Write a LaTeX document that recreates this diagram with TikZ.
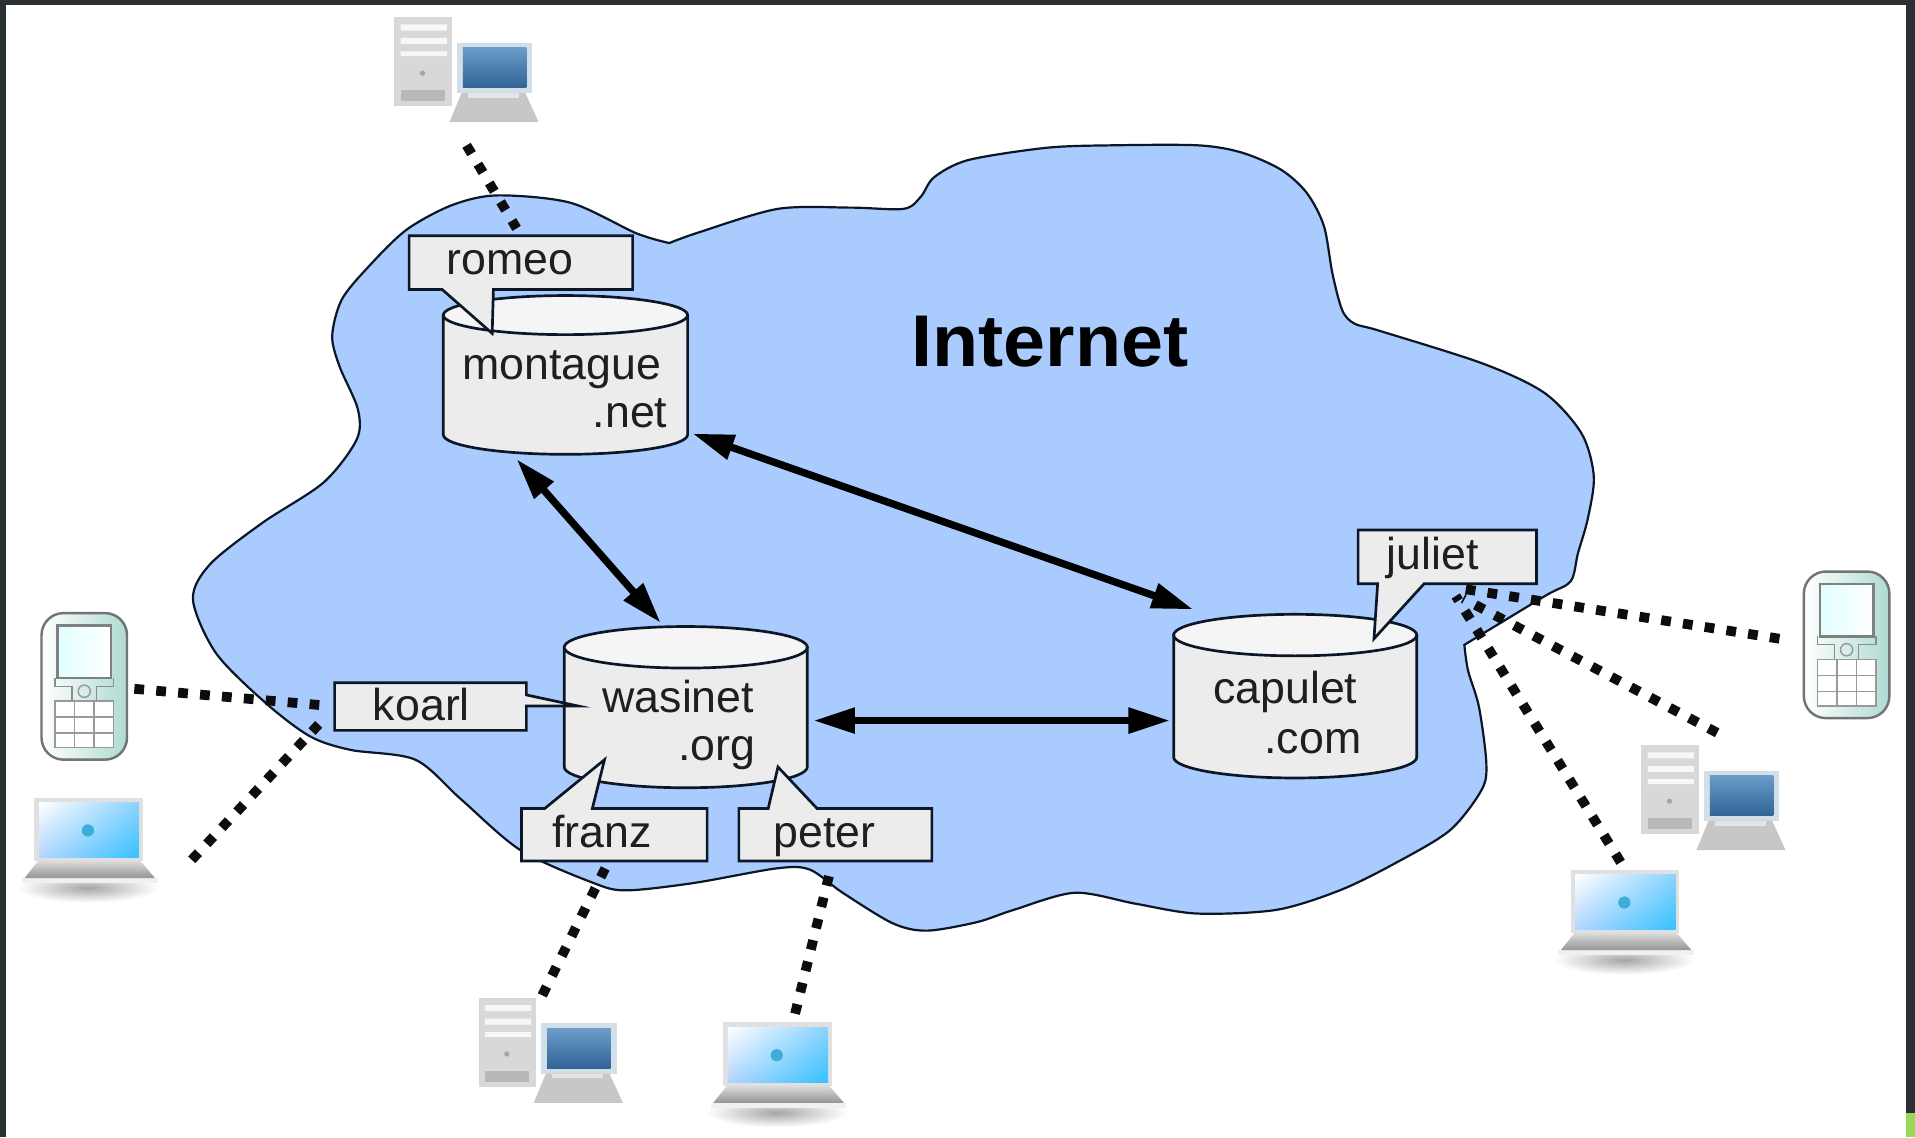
\documentclass[tikz,border=0pt]{standalone}
\usepackage{fontspec}
\setmainfont{Liberation Sans}
\usetikzlibrary{arrows.meta,shadings,calc}
\definecolor{cloudblue}{HTML}{A9CBFD}
\definecolor{inkline}{HTML}{0B1626}
\definecolor{boxgrey}{HTML}{ECECEC}
\definecolor{framedark}{HTML}{2B3033}
\definecolor{twrgrey}{HTML}{D8D8D8}
\definecolor{scrtop}{HTML}{6C9CC8}
\definecolor{scrbot}{HTML}{2F6496}
\definecolor{monframe}{HTML}{D2DEE8}
\definecolor{phoneteal}{HTML}{AEDAD2}
\definecolor{cornergreen}{HTML}{9AD85A}
\tikzset{
  x=0.5pt,y=-0.5pt,
  outline/.style={draw=inkline,line width=1.1pt,line join=miter},
  bubble/.style={outline,fill=boxgrey},
  lbl/.style={anchor=base west,inner sep=0pt,font=\fontsize{18.3}{20}\selectfont,text=black!88},
  biarrow/.style={line width=3pt,black,{Triangle[length=17pt,width=10pt]}-{Triangle[length=17pt,width=10pt]}},
  dotlink/.style={line width=4pt,black!95,dash pattern=on 4pt off 5pt},
  pcdev/.pic={
    \fill[twrgrey] (0,0) rectangle (47,73);
    \fill[white!80!twrgrey] (5,6) rectangle (43,11) (5,17) rectangle (43,22) (5,28) rectangle (43,32);
    \fill[black!35] (23,46) circle (2.2);
    \fill[black!28] (5,60) rectangle (41,69);
    \fill[monframe] (51,21) rectangle (113,62);
    \shade[top color=scrtop,bottom color=scrbot] (56,25) rectangle (108,58);
    \fill[black!22] (55,62) -- (107,62) -- (118,86) -- (45,86) -- cycle;
    \fill[black!10] (60,62) rectangle (102,66);
  },
  lapdev/.pic={
    \shade[inner color=black!35,outer color=white,draw=none] (42,72) ellipse (58 and 12);
    \fill[black!6] (-12,64) rectangle (99,68);
    \fill[black!12] (-2,-2) rectangle (87,50);
    \shade[upper left=white,upper right=cyan!60!blue!45,lower left=cyan!45!blue!30,lower right=cyan!70!blue!80] (2,2) rectangle (84,47);
    \fill[cyan!70!teal!85] (42,25) circle (5);
    \shade[top color=black!12,bottom color=black!42] (2,49) -- (84,49) -- (97,64) -- (-10,64) -- cycle;
  },
  phonedev/.pic={
    \shade[left color=white,middle color=white,right color=phoneteal,draw=black!55,line width=1pt,rounded corners=9pt] (0,0) rectangle (70,120);
    \shade[left color=cyan!12,right color=white,draw=black!50,line width=1pt] (13,10) rectangle (57,53);
    \draw[black!45,line width=0.5pt] (11,53) -- (11,60) -- (25,60) -- (25,72) -- (45,72) -- (45,60) -- (59,60) -- (59,53);
    \draw[black!40,line width=0.6pt] (35,64) circle (5);
    \draw[black!40,line width=0.6pt,fill=white] (11,72) rectangle (59,110);
    \draw[black!40,line width=0.6pt] (27,72) -- (27,110) (43,72) -- (43,110) (11,85) -- (59,85) (11,98) -- (59,98);
  },
}
\newcommand{\cyl}[6]{% name x-left x-right y-top-centre y-edge-bottom ry
  \pgfmathsetmacro{\cx}{(#2+#3)/2}\pgfmathsetmacro{\rx}{(#3-#2)/2}
  \draw[outline,fill=boxgrey] (#2,#4) -- (#2,#5) arc[start angle=180,end angle=360,x radius=\rx,y radius=-#6] -- (#3,#4) -- cycle;
  \draw[outline,fill=white!96!black] (\cx,#4) ellipse[x radius=\rx,y radius=#6];
  \node[inner sep=0pt,minimum width=200,minimum height=130] (#1) at (\cx,{(#4+#5)/2}) {};
}
\begin{document}
\begin{tikzpicture}
\useasboundingbox (0,0) rectangle (1568,931);
\fill[white] (0,0) rectangle (1568,931);
\fill[framedark] (0,0) rectangle (1568,4);
\fill[framedark] (0,0) rectangle (5,931);
\fill[framedark] (1561,0) rectangle (1568,911);
\fill[cornergreen] (1561,911) rectangle (1568,931);

% cloud
\draw[outline,fill=cloudblue,line width=0.9pt]
  plot[smooth,tension=0.5] coordinates {(548,199) (573,190) (637,171) (697,170) (740,171) (754,161) (765,145) (793,131) (857,121) (910,119) (981,119) (1017,125) (1049,139) (1070,158) (1084,185) (1091,224) (1099,254) (1109,265) (1130,271) (1215,298) (1265,322) (1295,355) (1305,390) (1300,425) (1292,453) (1286,476) (1265,488) (1199,528)}
  -- plot[smooth,tension=0.5] coordinates {(1199,528) (1202,549) (1211,579) (1217,625) (1213,647) (1187,680) (1142,707) (1097,729) (1045,745) (980,748) (930,740) (880,731) (830,745) (800,755) (759,762) (731,756) (690,731) (663,712) (636,711) (568,723) (513,729) (486,723) (426,696) (377,654) (340,622) (287,614) (254,603) (218,576) (177,535) (158,491) (172,462) (215,428) (265,395) (292,360) (293,335) (278,300) (272,275) (280,245) (303,217) (333,188) (370,168) (407,160) (467,166) (521,191) (548,199)}
  -- cycle;

% devices
\pic (pcTop) at (323,14) {pcdev};
\pic (pcFranz) at (392,817) {pcdev};
\pic (pcRight) at (1344,610) {pcdev};
\pic (lapLeft) at (30,655) {lapdev};
\pic (lapPeter) at (594,839) {lapdev};
\pic (lapRight) at (1288,714) {lapdev};
\pic (phLeft) at (34,502) {phonedev};
\pic (phRight) at (1477,468) {phonedev};

% link ends
\coordinate (topA) at (382,119);\coordinate (topB) at (423,187);
\coordinate (phlA) at (110,564);\coordinate (phlB) at (270,578);
\coordinate (lplA) at (157,704);\coordinate (lplB) at (262,592);
\coordinate (frA) at (444,815);\coordinate (frB) at (497,708);
\coordinate (peA) at (651,830);\coordinate (peB) at (680,712);
\coordinate (jpA) at (1457,523);\coordinate (jpB) at (1197,482);
\coordinate (jcA) at (1406,600);\coordinate (jcB) at (1198,490);
\coordinate (jlA) at (1327,706);\coordinate (jlB) at (1192,488);
\foreach \a/\b in {topA/topB,phlA/phlB,lplA/lplB,frA/frB,peA/peB,jpA/jpB,jcA/jcB,jlA/jlB}
  \draw[dotlink] (\a) -- (\b);

% databases
\cyl{mont}{363}{563}{258}{356}{16}
\cyl{wasi}{462}{661}{530}{628}{17}
\cyl{capu}{961}{1160}{520}{620}{17}
\node[lbl] (montT) at (378,311) {montague};
\node[lbl] (montN) at (485,350) {.net};
\node[lbl] (wasiT) at (493,583) {wasinet};
\node[lbl] (wasiO) at (555,623) {.org};
\node[lbl] (capuT) at (993,576) {capulet};
\node[lbl] (capuC) at (1035,617) {.com};

% arrows
\coordinate (mcA) at (567,355);\coordinate (mcB) at (977,499);
\coordinate (mwA) at (423,376);\coordinate (mwB) at (541,510);
\coordinate (wcA) at (666,590);\coordinate (wcB) at (958,590);
\draw[biarrow] (mcA) -- (mcB);
\draw[biarrow] (mwA) -- (mwB);
\draw[biarrow] (wcA) -- (wcB);

% callouts
\draw[bubble] (335,193) -- (518,193) -- (518,237) -- (404,237) -- (403,273) -- (362,237) -- (335,237) -- cycle;
\draw[bubble] (1112,434) -- (1258,434) -- (1258,478) -- (1166,478) -- (1125,523) -- (1128,478) -- (1112,478) -- cycle;
\draw[bubble] (274,559) -- (431,559) -- (431,569) -- (473,578) -- (431,578) -- (431,598) -- (274,598) -- cycle;
\draw[bubble] (427,662) -- (446,662) -- (495,622) -- (485,662) -- (579,662) -- (579,705) -- (427,705) -- cycle;
\draw[bubble] (605,662) -- (629,662) -- (637,628) -- (669,662) -- (763,662) -- (763,705) -- (605,705) -- cycle;
\node[lbl] (romeo) at (365,225) {romeo};
\node[lbl] (juliet) at (1135,466) {juliet};
\node[lbl] (koarl) at (305,590) {koarl};
\node[lbl] (franz) at (452,694) {franz};
\node[lbl] (peter) at (633,694) {peter};

\node[anchor=base west,inner sep=0pt,font=\fontsize{30}{33}\selectfont\bfseries] (inet) at (746,300) {\scalebox{1.03}[1]{Internet}};
\end{tikzpicture}
\end{document}
